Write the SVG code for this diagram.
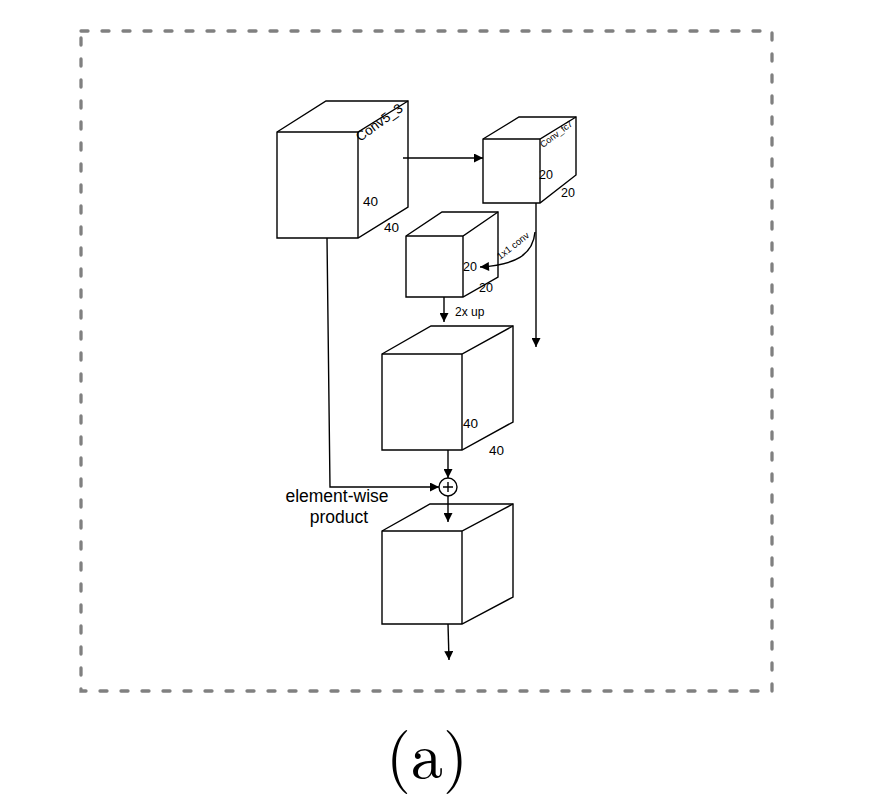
<svg xmlns="http://www.w3.org/2000/svg" width="872" height="810" viewBox="0 0 872 810">
<defs>
<style>
.cube{fill:#fff;stroke:#000;stroke-width:1.4;stroke-linejoin:miter}
.ln{fill:none;stroke:#000;stroke-width:1.4}
.t{font-family:"Liberation Sans",Arial,sans-serif;fill:#000}
</style>
<marker id="ah" viewBox="0 0 10 10" refX="10" refY="5" markerWidth="10" markerHeight="9" markerUnits="userSpaceOnUse" orient="auto"><path d="M0,0 L10,5 L0,10 Z" fill="#000"/></marker>
</defs>
<rect width="872" height="810" fill="#fff"/>
<rect x="81" y="31" width="691" height="660" fill="none" stroke="#808080" stroke-width="3.3" stroke-dasharray="7 14" stroke-linecap="round"/>

<g id="conv5_3">
<path class="cube" d="M277,132 L326,101 L408,101 L408,207 L358,238 L277,238 Z"/>
<path class="ln" d="M277,132 L358,132 L408,101 M358,132 L358,238"/>
<text class="t" font-size="13.5" transform="translate(360,142) rotate(-36)">Conv5_3</text>
<text class="t" font-size="13.5" x="363" y="206">40</text>
<text class="t" font-size="13.5" x="384" y="232">40</text>
</g>

<g id="conv_fc7">
<path class="cube" d="M483,139 L519,117 L576,117 L576,175 L540,203 L483,203 Z"/>
<path class="ln" d="M483,139 L540,139 L576,117 M540,139 L540,203"/>
<text class="t" font-size="9" transform="translate(543,148) rotate(-37)">Conv_fc7</text>
<text class="t" font-size="12.5" x="539" y="179">20</text>
<text class="t" font-size="12.5" x="561" y="197">20</text>
</g>

<g id="small">
<path class="cube" d="M406,236 L442,212 L498,212 L498,277 L463,297 L406,297 Z"/>
<path class="ln" d="M406,236 L463,236 L498,212 M463,236 L463,297"/>
<text class="t" font-size="12.5" x="463" y="271">20</text>
<text class="t" font-size="12.5" x="479" y="292">20</text>
</g>

<g id="up">
<path class="cube" d="M382,354 L431,326 L513,326 L513,422 L462,450 L382,450 Z"/>
<path class="ln" d="M382,354 L462,354 L513,326 M462,354 L462,450"/>
<text class="t" font-size="13.5" x="463" y="428">40</text>
<text class="t" font-size="13.5" x="489" y="455">40</text>
</g>

<g id="plus">
<circle cx="448" cy="487" r="9" fill="#fff" stroke="#000" stroke-width="1.4"/>
<path class="ln" d="M443,487 L453,487 M448,482 L448,492"/>
<text class="t" font-size="17.5" x="337" y="502" text-anchor="middle">element-wise</text>
<text class="t" font-size="17.5" x="339" y="523" text-anchor="middle">product</text>
</g>

<g id="out">
<path class="cube" d="M382,531 L430,504 L513,504 L513,597 L462,624 L382,624 Z"/>
<path class="ln" d="M382,531 L462,531 L513,504 M462,531 L462,624"/>
</g>

<g id="connectors">
<path class="ln" d="M403,158 L483,158" marker-end="url(#ah)"/>
<path class="ln" d="M536,203 L536,347" marker-end="url(#ah)"/>
<path class="ln" d="M535,232 C533,255 515,265 480,267" marker-end="url(#ah)"/>
<text class="t" font-size="9.5" transform="translate(500,260) rotate(-38)">1x1 conv</text>
<path class="ln" d="M444,297 L444,322" marker-end="url(#ah)"/>
<text class="t" font-size="12" x="455" y="316">2x up</text>
<path class="ln" d="M448,450 L448,478" marker-end="url(#ah)"/>
<path class="ln" d="M327,238 L330,487 L439,487" marker-end="url(#ah)"/>
<path class="ln" d="M448,496 L448,522" marker-end="url(#ah)"/>
<path class="ln" d="M448,624 L449,660" marker-end="url(#ah)"/>
</g>

<text x="427" y="778" font-family="'Latin Modern Roman','Liberation Serif','DejaVu Serif',serif" font-size="64" text-anchor="middle">(a)</text>
</svg>
